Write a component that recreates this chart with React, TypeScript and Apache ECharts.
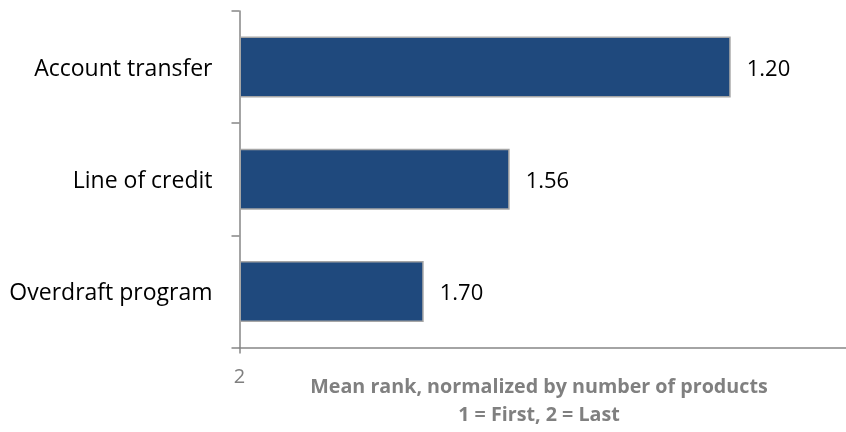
import React, { useEffect, useRef } from "react";
import * as echarts from "echarts";

const categories = ["Account transfer", "Line of credit", "Overdraft program"];
const values = [1.2, 1.56, 1.7];
const axisStart = 2;
const axisEnd = 1;
const axisTitle = "Mean rank, normalized by number of products\n1 = First, 2 = Last";

export default function App() {
  const ref = useRef<HTMLDivElement>(null);
  useEffect(() => {
    if (!ref.current) return;
    const chart = echarts.init(ref.current, undefined, { renderer: "svg" });
    chart.setOption({
      animation: false,
      grid: { left: 239.5, right: -7.5, top: 11, bottom: 84.5, outerBoundsMode: "none", containLabel: false },
      xAxis: {
        type: "value",
        inverse: true,
        min: axisEnd,
        max: axisStart,
        interval: 1,
        splitLine: { show: false },
        axisLine: { show: true, lineStyle: { color: "#868686", width: 1.5 } },
        axisTick: { show: true, length: 6, lineStyle: { color: "#868686", width: 1.5 } },
        axisLabel: {
          color: "#7f7f7f",
          fontFamily: "Open Sans",
          fontSize: 20,
          margin: 18,
          formatter: (v: number) => (v === axisStart ? String(axisStart) : ""),
        },
        name: axisTitle,
        nameLocation: "middle",
        nameMoveOverlap: false,
        nameGap: 24,
        nameTextStyle: {
          color: "#808080",
          fontFamily: "Open Sans",
          fontWeight: "bold",
          fontSize: 19.7,
          lineHeight: 28,
          padding: [0, 15, 0, 0],
          verticalAlign: "top",
        },
      },
      yAxis: {
        type: "category",
        inverse: true,
        data: categories,
        axisLine: { show: true, lineStyle: { color: "#868686", width: 1.5 } },
        axisTick: { show: true, length: 8, lineStyle: { color: "#868686", width: 1.5 } },
        axisLabel: { color: "#000", fontFamily: "Open Sans", fontSize: 23, margin: 27 },
      },
      series: [
        {
          type: "bar",
          stack: "s",
          silent: true,
          data: values,
          barWidth: 61,
          itemStyle: { color: "transparent" },
          label: {
            show: true,
            position: "insideLeft",
            distance: 16,
            color: "#000",
            fontFamily: "Open Sans",
            fontSize: 22,
            formatter: (p: any) => values[p.dataIndex].toFixed(2),
          },
        },
        {
          type: "bar",
          stack: "s",
          data: values.map((v) => axisStart - v),
          barWidth: 61,
          itemStyle: { color: "#1F497D", borderColor: "#a6a6a6", borderWidth: 1.5 },
        },
      ],
    });
    return () => chart.dispose();
  }, []);
  return <div ref={ref} style={{ position: "fixed", left: 0, top: 0, width: 846, height: 432 }} />;
}
